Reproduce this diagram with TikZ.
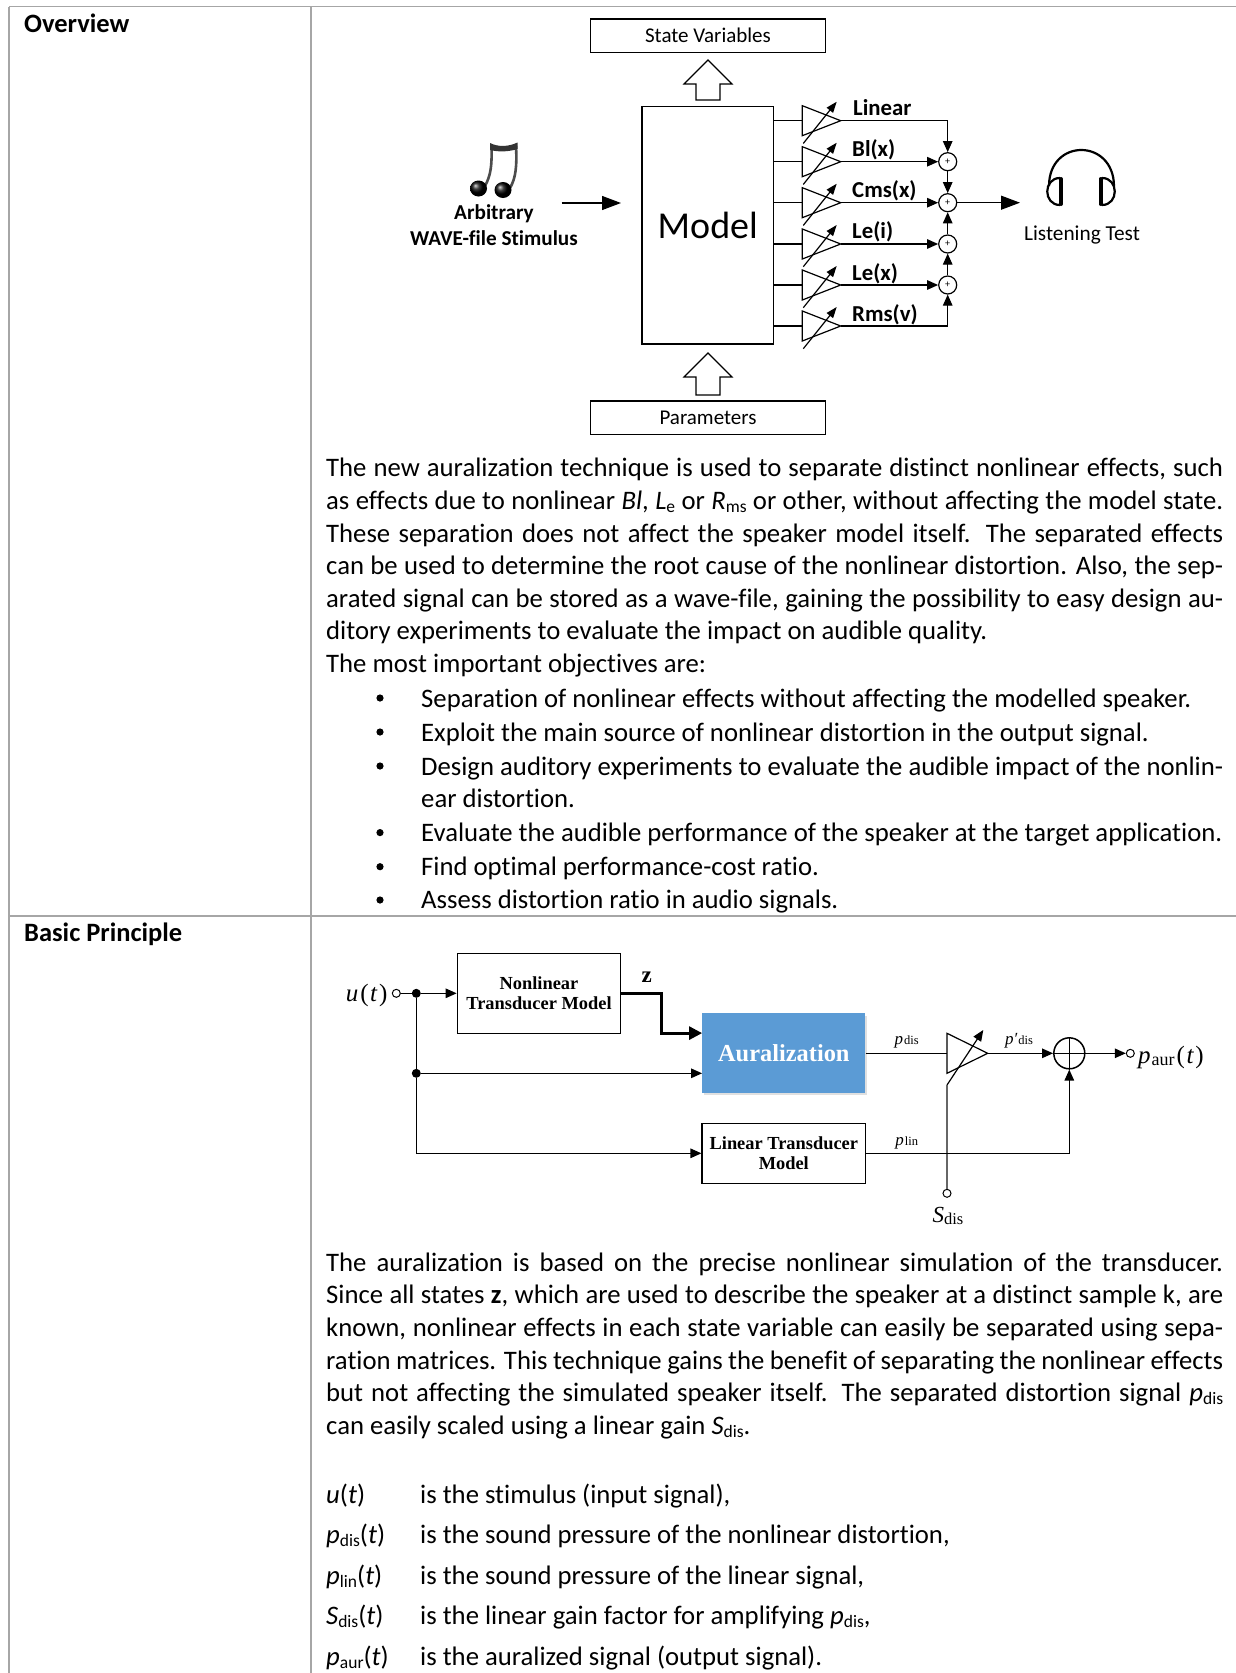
\documentclass[tikz,border=0pt]{standalone}
\usepackage{fontspec}
\setmainfont[Ligatures=CommonOff]{Carlito}
\newfontfamily\serifcam{Liberation Serif}
\usetikzlibrary{arrows.meta,calc}
\newcommand\lowr[1]{\raisebox{-0.13em}{\fontsize{17.5}{17.5}\selectfont #1}}
\newcommand\bodysize{\fontsize{26.7}{32}\selectfont}
% justified line / plain line
\newcommand\jl[4]{\node[bodytxt] (#1) at (#2,#3) {\hbox to \dimexpr1223pt-#2pt\relax{#4}};}
\newcommand\pl[4]{\node[bodytxt] (#1) at (#2,#3) {#4};}
\newcommand\bul[1]{\fill (380,#1) circle (3.6);}
\newcommand\ampblock[2]{%
  \coordinate (#1-in) at (802.3,#2);
  \coordinate (#1-out) at (840.7,#2);
  \draw[dline] (802.3,#2-15) -- (#1-out) -- (802.3,#2+15) -- cycle;
  \coordinate (#1-a) at (803.3,#2+22.7);
  \coordinate (#1-b) at (836.7,#2-19);
  \draw[dline,-{Triangle[length=11pt,width=8pt]}] (#1-a) -- (#1-b);
  \draw[dline] (model.east |- #1-in) -- (#1-in);
}
\tikzset{
  bodytxt/.style={anchor=base west,inner sep=0pt,font=\bodysize},
  grid/.style={draw=black!35,line width=1.1pt},
  dline/.style={draw=black,line width=1.2pt},
  box/.style={draw=black,line width=1.3pt,inner sep=0pt,align=center},
  sumc/.style={circle,draw=black,line width=1.2pt,minimum size=18pt,inner sep=0pt,font=\fontsize{10}{10}\selectfont,fill=white},
  tip/.style={-{Triangle[length=11pt,width=9.5pt]}},
  bigtip/.style={-{Triangle[length=19pt,width=14pt]}},
  opamp/.style={circle,draw=black,line width=1pt,minimum size=8pt,inner sep=0pt,fill=white},
  blob/.style={circle,fill=black,minimum size=9pt,inner sep=0pt},
  lbl/.style={inner sep=0pt,font=\fontsize{22.8}{23}\selectfont\bfseries,anchor=base west},
  serifb/.style={font=\serifcam\fontsize{18.4}{20}\selectfont\bfseries},
  sigl/.style={inner sep=0pt,font=\serifcam\fontsize{17}{17}\selectfont},
  sigbig/.style={inner sep=0pt,font=\serifcam\fontsize{25}{25}\selectfont},
}
\begin{document}
\begin{tikzpicture}[x=1pt,y=-1pt]
\useasboundingbox (0,0) rectangle (1236,1673);
\fill[white] (0,0) rectangle (1236,1673);
% table
\draw[grid] (9,6.5) -- (1236,6.5);
\draw[grid] (9,916) -- (1236,916);
\draw[grid] (9,6.5) -- (9,1673);
\draw[grid] (311,6.5) -- (311,1673);
\node[bodytxt,font=\fontsize{26.5}{30}\selectfont\bfseries] (h1) at (24,32) {Overview};
\node[bodytxt,font=\fontsize{26.5}{30}\selectfont\bfseries] (h2) at (24,941) {Basic Principle};
% top diagram
\node[box,minimum width=234.5pt,minimum height=33.5pt,font=\fontsize{21}{22}\selectfont] (state) at (708,35.7) {State Variables};
\node[box,minimum width=234.5pt,minimum height=33.5pt,font=\fontsize{21}{22}\selectfont] (param) at (708,417.7) {\raisebox{-2.5pt}{Parameters}};
\node[box,minimum width=131.7pt,minimum height=237.3pt,font=\fontsize{38}{38}\selectfont] (model) at (707.8,225.3) {Model};
\draw[dline] (708,60) -- (732,84) -- (720,84) -- (720,100) -- (696,100) -- (696,84) -- (684,84) -- cycle;
\draw[dline] (708,353) -- (732,377) -- (720,377) -- (720,395) -- (696,395) -- (696,377) -- (684,377) -- cycle;
% note
\draw[line width=2.6pt,black!70] (491.5,146) .. controls (492,165) and (491,175) .. (485,186);
\draw[line width=2.6pt,black!70] (516,146) .. controls (517,165) and (516,178) .. (510,188);
\fill[black!80] (490,143) .. controls (498,147) and (508,147) .. (517.5,142.5) -- (517.5,149) .. controls (508,152) and (498,152) .. (490,150) -- cycle;
\shade[ball color=black] (478.5,188.5) ellipse (8.5 and 8);
\shade[ball color=black] (503,190) ellipse (8.5 and 8);
\node[inner sep=0pt,align=center,font=\fontsize{21.2}{26}\selectfont\bfseries] (stim) at (494,225) {Arbitrary\\WAVE-file Stimulus};
\coordinate (stimout) at (561.7,203);
\coordinate (modelin) at (621,203);
\draw[dline,bigtip] (stimout) -- (modelin);
% amps
\ampblock{a1}{120.7}
\ampblock{a2}{161.7}
\ampblock{a3}{202.7}
\ampblock{a4}{244}
\ampblock{a5}{285}
\ampblock{a6}{326}
\node[sumc] (s1) at (947.7,161.7) {+};
\node[sumc] (s2) at (947.7,202.7) {+};
\node[sumc] (s3) at (947.7,244) {+};
\node[sumc] (s4) at (947.7,285) {+};
\draw[dline,tip] (a1-out) -| (s1.north);
\draw[dline,tip] (a2-out) -- (s1.west);
\draw[dline,tip] (a3-out) -- (s2.west);
\draw[dline,tip] (a4-out) -- (s3.west);
\draw[dline,tip] (a5-out) -- (s4.west);
\draw[dline,tip] (a6-out) -| (s4.south);
\draw[dline,tip] (s1.south) -- (s2.north);
\draw[dline,tip] (s3.north) -- (s2.south);
\draw[dline,tip] (s4.north) -- (s3.south);
\coordinate (lt) at (1020,202.7);
\draw[dline,bigtip] (s2.east) -- (lt);
\node[lbl] (l1) at (853,115) {Linear};
\node[lbl] (l2) at (852,156) {Bl(x)};
\node[lbl] (l3) at (852,197) {Cms(x)};
\node[lbl] (l4) at (852,238.5) {Le(i)};
\node[lbl] (l5) at (852,280) {Le(x)};
\node[lbl] (l6) at (852,321) {Rms(v)};
% headphones
\draw[line width=2.2pt] (1049,186) .. controls (1049,138) and (1113.5,138) .. (1114,186);
\draw[line width=2.2pt] (1060,178) .. controls (1043,178) and (1043,205) .. (1060,205);
\draw[line width=2.2pt] (1102,178) .. controls (1119,178) and (1119,205) .. (1102,205);
\draw[line width=4pt,line cap=round] (1061,179) -- (1061,204);
\draw[line width=4pt,line cap=round] (1100.5,179) -- (1100.5,204);
\node[inner sep=0pt,font=\fontsize{21.3}{22}\selectfont] (ltest) at (1082,235) {Listening Test};
% body 1
\jl{t1}{326}{476}{The new auralization technique is used to separate distinct nonlinear effects, such}
\jl{t2}{326}{509}{as effects due to nonlinear \textit{Bl}, \textit{L}\lowr{e} or \textit{R}\lowr{ms} or other, without affecting the model state.}
\jl{t3}{326}{542}{These separation does not affect the speaker model itself. The separated effects}
\jl{t4}{326}{574}{can be used to determine the root cause of the nonlinear distortion. Also, the sep-}
\jl{t5}{326}{607}{arated signal can be stored as a wave-file, gaining the possibility to easy design au-}
\pl{t6}{326}{639}{ditory experiments to evaluate the impact on audible quality.}
\pl{t7}{326}{672}{The most important objectives are:}
\pl{b1}{421}{707}{Separation of nonlinear effects without affecting the modelled speaker.}
\pl{b2}{421}{741}{Exploit the main source of nonlinear distortion in the output signal.}
\jl{b3}{421}{775}{Design auditory experiments to evaluate the audible impact of the nonlin-}
\pl{b3b}{421}{807}{ear distortion.}
\pl{b4}{421}{841}{Evaluate the audible performance of the speaker at the target application.}
\pl{b5}{421}{875}{Find optimal performance-cost ratio.}
\pl{b6}{421}{908}{Assess distortion ratio in audio signals.}
\bul{698}\bul{732}\bul{766}\bul{832.6}\bul{866.7}\bul{900}
% lower diagram
\node[box,minimum width=163.4pt,minimum height=80pt,serifb] (nl) at (539,993.3) {Nonlinear\\Transducer Model};
\fill[black!12] (704,1015.5) rectangle (867,1095);
\node[inner sep=0pt,minimum width=163pt,minimum height=80pt,fill={rgb,255:red,91;green,155;blue,213},text=white,font=\serifcam\fontsize{24.4}{24}\selectfont\bfseries] (aur) at (783.8,1053.3) {Auralization};
\node[box,minimum width=163.4pt,minimum height=60pt,serifb] (lin) at (783.8,1153.3) {Linear Transducer\\Model};
\node[opamp] (uo) at (396.3,993.3) {};
\node[blob] (j1) at (416.3,993.3) {};
\node[blob] (j2) at (416.3,1073.3) {};
\node[sigbig,anchor=base] (ul) at (366.7,1001) {\textit{u}\kern2pt(\kern1.5pt\textit{t}\kern1.5pt)};
\draw[dline] (uo) -- (j1);
\draw[dline,tip] (j1) -- (nl.west);
\draw[dline] (j1) -- (j2);
\coordinate (aurin) at (aur.west |- j2);
\draw[dline,tip] (j2) -- (aurin);
\draw[dline,tip] (j2) |- (lin.west);
\coordinate (aurz) at ($(aur.north west)+(0,20)$);
\coordinate (zbend) at (661.7,993.3);
\draw[draw=black,line width=2.8pt,-{Triangle[length=13pt,width=13pt]}] (nl.east) -- (zbend) |- (aurz);
\node[inner sep=0pt,font=\serifcam\fontsize{23}{23}\selectfont\bfseries] (zl) at (646.7,977) {z};
\coordinate (tin) at (947,1053.3);
\coordinate (tout) at (987.7,1053.3);
\draw[dline] (947,1033.3) -- (tout) -- (947,1073.3) -- cycle;
\draw[dline] (aur.east) -- (tin);
\coordinate (da) at (947,1085);
\coordinate (db) at (983.3,1030);
\draw[dline,-{Triangle[length=11pt,width=9pt]}] (da) -- (db);
\node[circle,draw=black,line width=1.5pt,minimum size=31pt,inner sep=0pt,fill=white] (sum) at (1069.3,1053.3) {};
\draw[line width=1.2pt] (sum.north) -- (sum.south) (sum.west) -- (sum.east);
\node[opamp] (sd) at (947,1193.3) {};
\node[opamp] (po) at (1130.3,1053.3) {};
\draw[draw=black!60,line width=1.3pt] (da) -- (sd);
\draw[dline,tip] (tout) -- (sum.west);
\draw[dline,tip] (sum.east) -- (po.west);
\draw[dline,tip] (lin.east) -| (sum.south);
\node[sigl,anchor=base] (pd) at (906.7,1044) {\textit{p}\kern1pt{\fontsize{12.5}{12}\selectfont dis}};
\node[sigl,anchor=base] (pd2) at (1019,1044) {\textit{p′}\kern1pt{\fontsize{12.5}{12}\selectfont dis}};
\node[sigl,anchor=base] (pl) at (906.7,1145) {\textit{p}\kern1pt{\fontsize{12.5}{12}\selectfont lin}};
\node[sigbig,anchor=base west] (pa) at (1138,1063) {\textit{p}\kern1pt{\fontsize{18}{18}\selectfont\raisebox{-0.15em}{aur}}\kern2pt(\kern1.5pt\textit{t}\kern1.5pt)};
\node[inner sep=0pt,anchor=base,font=\serifcam\fontsize{23}{23}\selectfont] (sl) at (948,1222) {\textit{S}{\fontsize{16.5}{16}\selectfont\raisebox{-0.15em}{dis}}};
% body 2
\jl{u1}{326}{1271}{The auralization is based on the precise nonlinear simulation of the transducer.}
\jl{u2}{326}{1303}{Since all states \textbf{z}, which are used to describe the speaker at a distinct sample k, are}
\jl{u3}{326}{1336}{known, nonlinear effects in each state variable can easily be separated using sepa-}
\jl{u4}{326}{1369}{ration matrices. This technique gains the benefit of separating the nonlinear effects}
\jl{u5}{326}{1401}{but not affecting the simulated speaker itself. The separated distortion signal \textit{p}\lowr{dis}}
\pl{u6}{326}{1434}{can easily scaled using a linear gain \textit{S}\lowr{dis}.}
\pl{v1}{326}{1503}{\textit{u}(\textit{t})}
\pl{w1}{420}{1503}{is the stimulus (input signal),}
\pl{v2}{326}{1543}{\textit{p}\lowr{dis}(\textit{t})}
\pl{w2}{420}{1543}{is the sound pressure of the nonlinear distortion,}
\pl{v3}{326}{1584}{\textit{p}\lowr{lin}(\textit{t})}
\pl{w3}{420}{1584}{is the sound pressure of the linear signal,}
\pl{v4}{326}{1624}{\textit{S}\lowr{dis}(\textit{t})}
\pl{w4}{420}{1624}{is the linear gain factor for amplifying \textit{p}\lowr{dis},}
\pl{v5}{326}{1665}{\textit{p}\lowr{aur}(\textit{t})}
\pl{w5}{420}{1665}{is the auralized signal (output signal).}
\end{tikzpicture}
\end{document}
